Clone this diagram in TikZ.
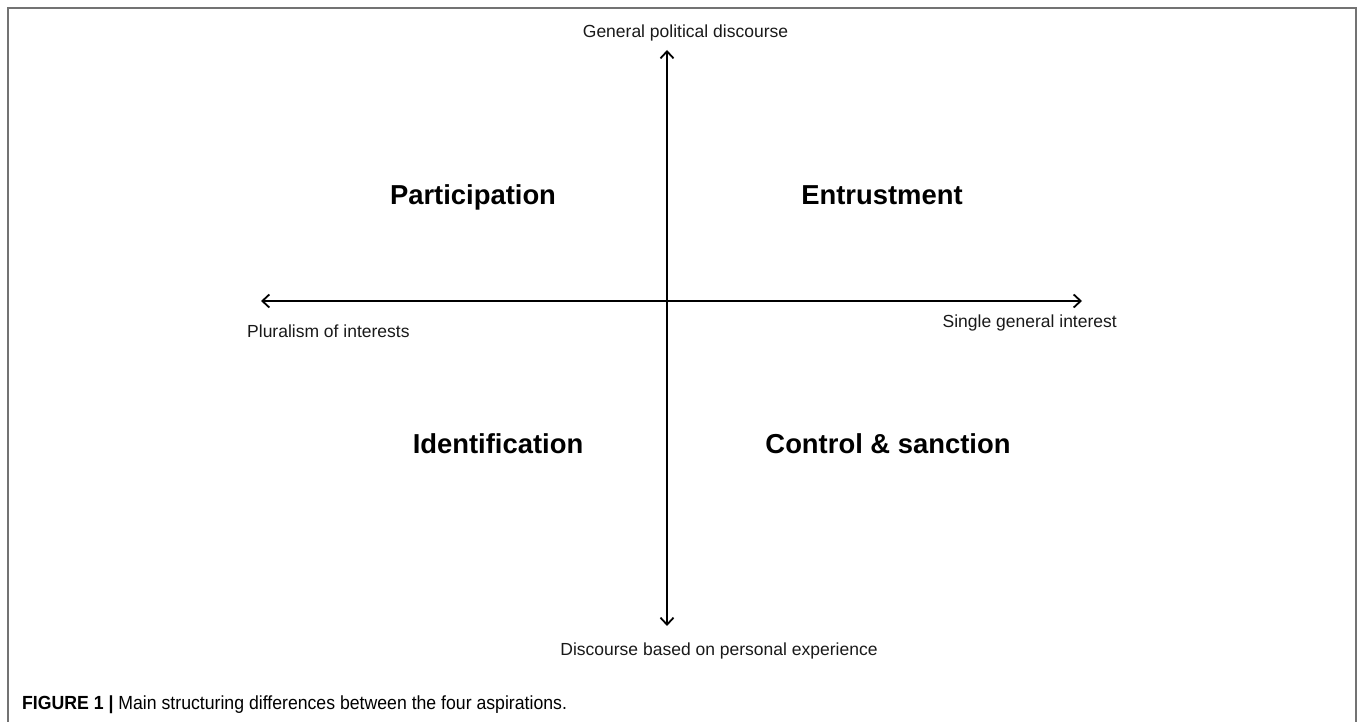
\documentclass[tikz,border=0pt]{standalone}
\usepackage{fontspec}
\setmainfont{Liberation Sans}
\newfontfamily\capfont[FakeStretch=0.93]{Liberation Sans}
\usetikzlibrary{arrows.meta}
\begin{document}
\begin{tikzpicture}[x=1pt,y=-1pt,
  axis/.style={line width=1.8pt,{Straight Barb[length=7pt,width=13pt]}-{Straight Barb[length=7pt,width=13pt]}},
  axlabel/.style={inner sep=0pt,font=\fontsize{17.5}{20}\selectfont,text=black!90},
  quad/.style={inner sep=0pt,anchor=base,font=\fontsize{27.4}{30}\selectfont\bfseries},
  frame/.style={line width=2pt,draw=black!55}]
\useasboundingbox (0,0) rectangle (1360,722);
\draw[frame] (7.5,722) -- (7.5,8) -- (1356,8) -- (1356,722);
\coordinate (vtop) at (667,50);
\coordinate (vbot) at (667,626);
\coordinate (hleft) at (261,301);
\coordinate (hright) at (1082,301);
\draw[axis] (vbot) -- (vtop);
\draw[axis] (hleft) -- (hright);
\node[axlabel,anchor=base] (gpd) at (685.5,38) {General political discourse};
\node[axlabel,anchor=base west] (plu) at (247,337) {Pluralism of interests};
\node[axlabel,anchor=base east] (sgi) at (1117,327) {Single general interest};
\node[axlabel,anchor=base] (dpe) at (719,655) {Discourse based on personal experience};
\node[quad] (par) at (473,205) {Participation};
\node[quad] (ent) at (882,205) {Entrustment};
\node[quad] (ide) at (498,453) {Identification};
\node[quad] (con) at (888,453) {Control \& sanction};
\node[inner sep=0pt,anchor=base west,font=\capfont\fontsize{19}{21}\selectfont] (cap) at (22,709.5) {\textbf{FIGURE 1 |} Main structuring differences between the four aspirations.};
\end{tikzpicture}
\end{document}
